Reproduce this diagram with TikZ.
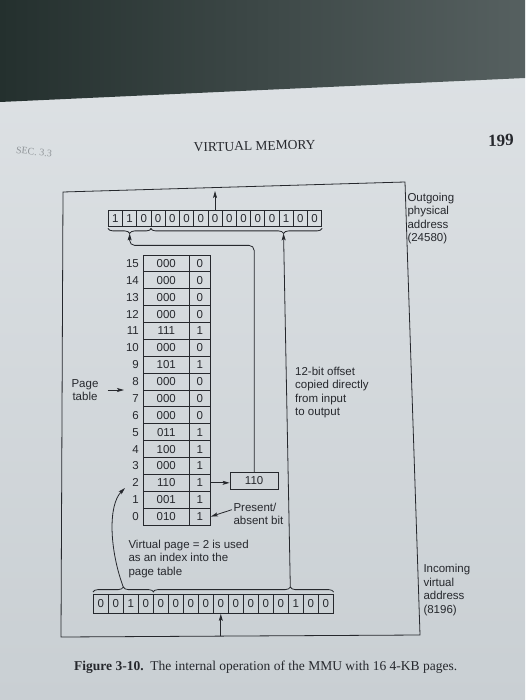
\documentclass[tikz,border=0pt]{standalone}
\usepackage{fontspec}
\setmainfont{Liberation Sans}
\newfontfamily\bookserif{Liberation Serif}
\usetikzlibrary{arrows.meta,decorations.pathreplacing,calc}
\definecolor{ink}{RGB}{38,40,45}
\definecolor{paperhi}{RGB}{223,227,230}
\definecolor{paperlo}{RGB}{201,207,211}
\definecolor{deskdark}{RGB}{36,48,46}
\definecolor{desklight}{RGB}{86,96,96}
\tikzset{
  label font/.style={font=\fontsize{11.5}{13.5}\selectfont},
  bitcell/.style={draw=ink, line width=0.8pt, inner sep=0pt, text=ink, label font,
    minimum width=14.23pt, minimum height=15.5pt},
  inbit/.style={bitcell, minimum width=15pt, minimum height=19pt},
  entry/.style={draw=ink, line width=0.8pt, inner sep=0pt, text=ink, label font,
    minimum height=16.875pt},
  note/.style={align=left, inner sep=0pt, text=ink, label font},
  link/.style={draw=ink, line width=0.8pt, -{Stealth[length=7pt,width=4pt,inset=1.5pt]}},
  brace/.style={draw=ink, line width=0.8pt, decorate,
    decoration={brace, amplitude=5pt, raise=2pt, aspect=#1}},
  brace/.default=0.5
}
\begin{document}
\begin{tikzpicture}[x=1pt,y=-1pt]
\useasboundingbox (0,0) rectangle (525,700);
% photo background
\shade[top color=paperhi, bottom color=paperlo] (0,0) rectangle (525,700);
\shade[left color=deskdark, right color=desklight] (0,0) -- (525,0) -- (525,78) -- (0,102) -- cycle;

% page head and caption
\node[text=ink!35!paperlo, rotate=-6, font=\bookserif\fontsize{10}{12}\selectfont] (sechead) at (34,152) {SEC. 3.3};
\node[text=ink, rotate=1.5, font=\bookserif\fontsize{13.5}{15}\selectfont] (runhead) at (254.7,146) {VIRTUAL MEMORY};
\node[text=ink, rotate=1.5, font=\bookserif\bfseries\fontsize{17}{19}\selectfont] (pageno) at (501,140.5) {199};
\node[text=ink, anchor=west, inner sep=0pt, font=\bookserif\fontsize{13.5}{15}\selectfont] (caption) at (74,667)
  {\textbf{Figure 3-10.}\enspace The internal operation of the MMU with 16 4-KB pages.};

% MMU frame
\draw[ink, line width=0.8pt] (63,192) -- (405,182) -- (420,635) -- (61,637) -- cycle;

% outgoing physical address
\foreach \b [count=\i] in {1,1,0,0,0,0,0,0,0,0,0,0,1,0,0}
  \node[bitcell] (out\i) at ({108.3+(\i-0.5)*14.23},218.25) {\b};
% incoming virtual address
\foreach \b [count=\i] in {0,0,1,0,0,0,0,0,0,0,0,0,0,1,0,0}
  \node[inbit] (in\i) at ({93.3+(\i-0.5)*15},604) {\b};

% page table
\foreach \k/\f/\p in {15/000/0,14/000/0,13/000/0,12/000/0,11/111/1,10/000/0,9/101/1,8/000/0,
                      7/000/0,6/000/0,5/011/1,4/100/1,3/000/1,2/110/1,1/001/1,0/010/1}{
  \node[entry, minimum width=45.5pt] (frame\k) at (166.25,{255+(15.5-\k)*16.875}) {\f};
  \node[entry, minimum width=21.5pt] (bit\k) at (199.75,{255+(15.5-\k)*16.875}) {\p};
  \node[note, anchor=east] (idx\k) at (139,{255+(15.5-\k)*16.875}) {\k};
}
\node[entry, minimum width=48.3pt, minimum height=17.6pt] (outframe) at (254.15,481) {110};

% braces
\draw[brace] (out3.south east) -- (out1.south west);
\draw[brace=0.225] (out15.south east) -- (out4.south west);
\draw[brace] (in1.north west) -- (in4.north east);
\draw[brace=0.76] (in5.north west) -- (in16.north east);
\coordinate (tipA) at ($(out3.south east)!0.5!(out1.south west)+(0,7)$);
\coordinate (tipB) at ($(out15.south east)!0.225!(out4.south west)+(0,7)$);
\coordinate (tipC) at ($(in1.north west)!0.5!(in4.north east)+(0,-7)$);
\coordinate (tipD) at ($(in5.north west)!0.76!(in16.north east)+(0,-7)$);
\coordinate (tipE) at (125,488);
\coordinate (pagetip) at (124,390);
\coordinate (outhead) at (215,191);
\coordinate (intail) at (220.8,636);

% labels
\node[note, align=center] (pagelbl) at (85,390) {Page\\table};
\node[note, anchor=north west] (present) at (233.3,502.5) {Present/\\absent bit};
\node[note, anchor=north west] (offset) at (295,366.5) {12-bit offset\\copied directly\\from input\\to output};
\node[note, anchor=north west] (outlbl) at (407.3,192.5) {Outgoing\\physical\\address\\(24580)};
\node[note, anchor=north west] (inlbl) at (423.3,564) {Incoming\\virtual\\address\\(8196)};
\node[note, anchor=north west] (index) at (128.3,539.5) {Virtual page = 2 is used\\as an index into the\\page table};

% connectors
\draw[link] (out8.north) -- (out8.north |- outhead);
\draw[link] (intail) -- (in9.south);
\draw[link] ([xshift=9pt]pagelbl.east) -- (pagelbl.east -| pagetip);
\draw[link] (bit2.east) -- (bit2.east -| outframe.west);
\draw[link] ([xshift=-1.5pt,yshift=4pt]present.west) -- (bit0.east);
\draw[link, rounded corners=5pt] (outframe.north) |- ($(tipA)+(0,12)$) -- (tipA);
\draw[link] (tipD) -- (tipB);
\draw[link] (tipC) .. controls +(-14,-38) and +(-17,17) .. (tipE);
\end{tikzpicture}
\end{document}
